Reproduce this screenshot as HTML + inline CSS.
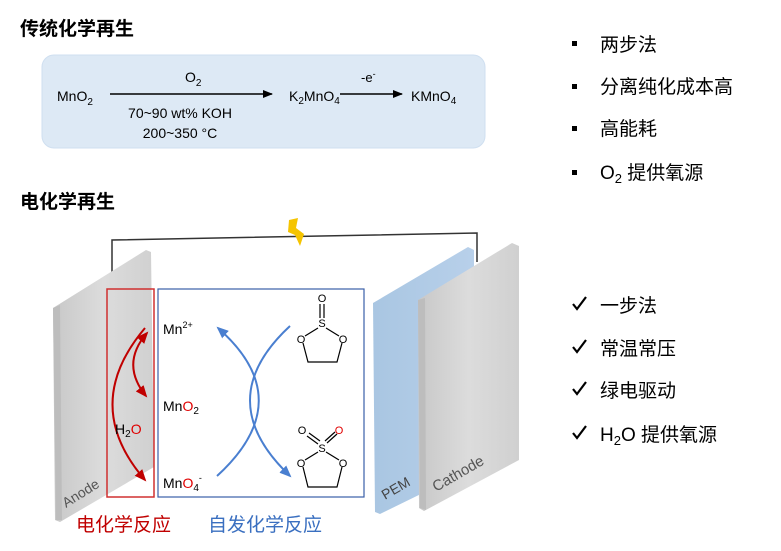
<!DOCTYPE html>
<html><head><meta charset="utf-8"><style>
body{margin:0;background:#fff;}
svg{display:block;font-family:"Liberation Sans","Noto Sans CJK SC",sans-serif;}
</style></head><body>
<svg width="781" height="551" viewBox="0 0 781 551" xmlns="http://www.w3.org/2000/svg">
<defs>
<marker id="ak" markerWidth="10" markerHeight="8" refX="9" refY="4" orient="auto" markerUnits="userSpaceOnUse"><path d="M0,0L10,4L0,8z" fill="#000"/></marker>
<marker id="ar" markerWidth="12" markerHeight="10" refX="10" refY="5" orient="auto-start-reverse" markerUnits="userSpaceOnUse"><path d="M0,0L12,5L0,10z" fill="#c00000"/></marker>
<marker id="ab" markerWidth="12" markerHeight="10" refX="10" refY="5" orient="auto" markerUnits="userSpaceOnUse"><path d="M0,0L12,5L0,10z" fill="#4a7fd0"/></marker>
<linearGradient id="gp" x1="0" x2="1"><stop offset="0" stop-color="#c8c8c8"/><stop offset="0.5" stop-color="#dcdcdc"/><stop offset="1" stop-color="#d0d0d0"/></linearGradient>
<linearGradient id="bp" x1="0" x2="1"><stop offset="0" stop-color="#a9c6e2"/><stop offset="1" stop-color="#b8d0ea"/></linearGradient>
</defs>
<text x="20" y="35" font-size="19" font-weight="bold">传统化学再生</text>
<rect x="42" y="55" width="443" height="93" rx="12" fill="#dde9f5" stroke="#cfdff0"/>
<text x="57" y="101" font-size="14">MnO<tspan font-size="10" dy="4">2</tspan></text>
<line x1="110" y1="94" x2="272" y2="94" stroke="#000" stroke-width="1.5" marker-end="url(#ak)"/>
<text x="185" y="82" font-size="14">O<tspan font-size="10" dy="4">2</tspan></text>
<text x="180" y="118" font-size="14" text-anchor="middle">70~90 wt% KOH</text>
<text x="180" y="138" font-size="14" text-anchor="middle">200~350 °C</text>
<text x="289" y="101" font-size="14">K<tspan font-size="10" dy="3">2</tspan><tspan dy="-3">MnO</tspan><tspan font-size="10" dy="3">4</tspan></text>
<line x1="340" y1="94" x2="402" y2="94" stroke="#000" stroke-width="1.5" marker-end="url(#ak)"/>
<text x="361" y="82" font-size="13">-e<tspan font-size="9" dy="-5">-</tspan></text>
<text x="411" y="101" font-size="14">KMnO<tspan font-size="10" dy="3">4</tspan></text>
<text x="20" y="208" font-size="19" font-weight="bold">电化学再生</text>
<g font-size="19">
<rect x="572" y="41" width="5" height="5"/><text x="600" y="51">两步法</text>
<rect x="572" y="84" width="5" height="5"/><text x="600" y="93">分离纯化成本高</text>
<rect x="572" y="126" width="5" height="5"/><text x="600" y="135">高能耗</text>
<rect x="572" y="170" width="5" height="5"/><text x="600" y="179">O<tspan font-size="13" dy="4">2</tspan><tspan dy="-4"> 提供氧源</tspan></text>
<g fill="none" stroke="#000" stroke-width="2.2">
<polyline points="573,304 577,309 586,297"/>
<polyline points="573,347 577,352 586,340"/>
<polyline points="573,389 577,394 586,382"/>
<polyline points="573,433 577,438 586,426"/>
</g>
<text x="600" y="312">一步法</text>
<text x="600" y="355">常温常压</text>
<text x="600" y="397">绿电驱动</text>
<text x="600" y="441">H<tspan font-size="13" dy="4">2</tspan><tspan dy="-4">O 提供氧源</tspan></text>
</g>
<polyline points="112,275 112,240 477,233 477,262" fill="none" stroke="#333" stroke-width="1.5"/>
<path d="M289,220 L298,218 L296,228 L304,234 L300,246 L295,235 L288,232 z" fill="#f5c400"/>
<path d="M53,308 L146,250 L151,252 L154,467 L60,522 L55,520 z" fill="url(#gp)"/>
<path d="M53,308 L60,305 L62,520 L56,520 z" fill="#bdbdbd"/>
<text transform="translate(66,508) rotate(-32)" font-size="14" fill="#555">Anode</text>
<path d="M373,303 L468,247 L474,250 L474,468 L380,514 L375,512 z" fill="url(#bp)"/>
<text transform="translate(385,500) rotate(-30)" font-size="14" fill="#444">PEM</text>
<path d="M418,300 L512,243 L519,246 L519,460 L424,511 L419,508 z" fill="url(#gp)"/>
<path d="M418,300 L425,298 L426,510 L420,508 z" fill="#bdbdbd"/>
<text transform="translate(436,492) rotate(-30)" font-size="15" fill="#555">Cathode</text>
<rect x="107" y="289" width="47" height="208" fill="none" stroke="#d03030" stroke-width="1.5"/>
<rect x="158" y="289" width="206" height="208" fill="#fff" stroke="#3a5fa8" stroke-width="1.2"/>
<path d="M145,328 Q80,405 145,480" fill="none" stroke="#c00000" stroke-width="2" marker-end="url(#ar)"/>
<path d="M147,333 Q120,364 146,396" fill="none" stroke="#c00000" stroke-width="2" marker-start="url(#ar)" marker-end="url(#ar)"/>
<text x="115" y="434" font-size="14">H<tspan font-size="10" dy="3">2</tspan><tspan dy="-3" fill="#e00000">O</tspan></text>
<text x="163" y="334" font-size="14">Mn<tspan font-size="9" dy="-6">2+</tspan></text>
<text x="163" y="411" font-size="14">Mn<tspan fill="#e00000">O</tspan><tspan font-size="10" dy="3">2</tspan></text>
<text x="163" y="488" font-size="14">Mn<tspan fill="#e00000">O</tspan><tspan font-size="10" dy="3">4</tspan><tspan font-size="9" dy="-10">-</tspan></text>
<path d="M217,476 Q300,400 218,328" fill="none" stroke="#4a7fd0" stroke-width="2" marker-end="url(#ab)"/>
<path d="M290,326 Q210,400 290,476" fill="none" stroke="#4a7fd0" stroke-width="2" marker-end="url(#ab)"/>
<g stroke="#000" stroke-width="1.2" fill="none" font-size="10">
<line x1="320" y1="304" x2="320" y2="318"/><line x1="324" y1="304" x2="324" y2="318"/>
<line x1="318" y1="328" x2="305" y2="336"/><line x1="326" y1="328" x2="339" y2="336"/>
<polyline points="303,343 308,362 337,362 342,343"/>
<line x1="307" y1="436" x2="318" y2="444"/><line x1="309" y1="433" x2="320" y2="441"/>
<line x1="327" y1="443" x2="337" y2="434"/><line x1="325" y1="441" x2="335" y2="432"/>
<line x1="318" y1="452" x2="305" y2="460"/><line x1="326" y1="452" x2="339" y2="460"/>
<polyline points="303,467 308,487 337,487 342,467"/>
</g>
<g font-size="11" text-anchor="middle">
<text x="322" y="302">O</text><text x="322" y="327">S</text>
<text x="301" y="343">O</text><text x="343" y="343">O</text>
<text x="302" y="434">O</text><text x="339" y="434" fill="#e00000">O</text>
<text x="322" y="452">S</text>
<text x="301" y="467">O</text><text x="343" y="467">O</text>
</g>
<text x="76" y="531" font-size="19" fill="#c00000">电化学反应</text>
<text x="208" y="531" font-size="19" fill="#3a6fc0">自发化学反应</text>
</svg>
</body></html>
